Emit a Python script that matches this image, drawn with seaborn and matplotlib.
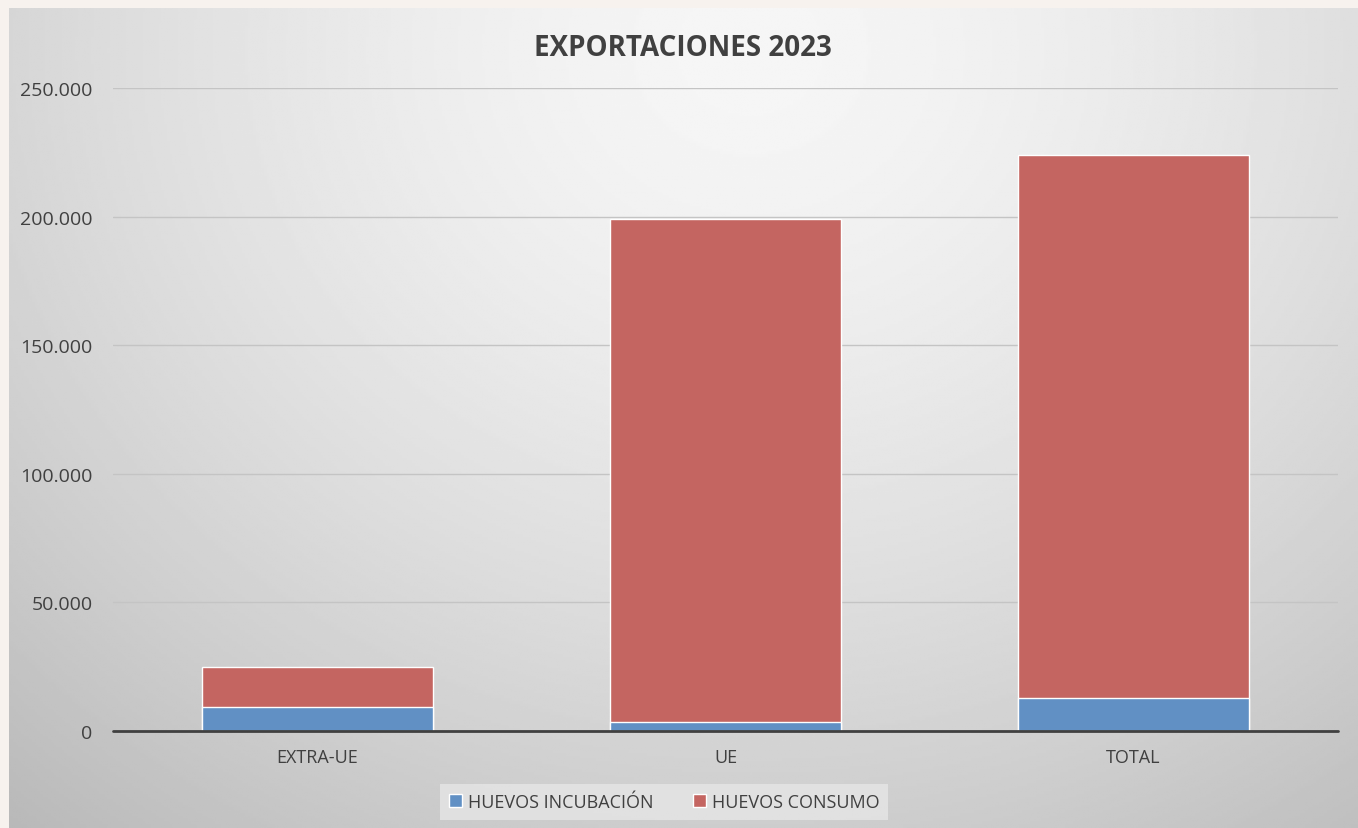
import numpy as np
import pandas as pd
import seaborn as sns
import matplotlib.pyplot as plt
from matplotlib.ticker import FuncFormatter

categorias = ["EXTRA-UE", "UE", "TOTAL"]
incubacion = [9300, 3500, 12800]
consumo = [15600, 195600, 211200]
y_ticks = [0, 50000, 100000, 150000, 200000, 250000]

azul = "#6190c4"
rojo = "#c46561"

df = pd.DataFrame({"cat": categorias, "inc": incubacion, "con": consumo})
df["total"] = df["inc"] + df["con"]

sns.set_theme(style="white")
plt.rcParams["font.family"] = ["Open Sans", "DejaVu Sans"]

fig = plt.figure(figsize=(13.58, 8.29), dpi=100)
fig.patch.set_facecolor("#f7f2ee")

# chart area background (radial grey gradient)
bg = fig.add_axes([9 / 1358, 0, 1 - 9 / 1358, 1 - 9 / 829], zorder=0)
yy, xx = np.mgrid[0:1:300j, 0:1:500j]
d = np.sqrt(((xx - 0.55) / 0.75) ** 2 + ((yy - 0.05) / 1.1) ** 2)
img = 0.965 - 0.2 * np.clip(d, 0, 1.2) ** 1.5
bg.imshow(img, cmap="gray", vmin=0, vmax=1, aspect="auto", extent=[0, 1, 1, 0])
bg.set_axis_off()

ax = fig.add_axes([113.5 / 1358, 97 / 829, 1224 / 1358, 643 / 829], zorder=1)
ax.patch.set_alpha(0)

sns.barplot(data=df, x="cat", y="total", color=rojo, saturation=1, width=0.566,
            edgecolor="white", linewidth=1, ax=ax, label="HUEVOS CONSUMO", zorder=3)
sns.barplot(data=df, x="cat", y="inc", color=azul, saturation=1, width=0.566,
            edgecolor="white", linewidth=1, ax=ax, label="HUEVOS INCUBACIÓN", zorder=3)

ax.set_ylim(0, 250000)
ax.set_xlim(-0.5, 2.5)
ax.set_yticks(y_ticks)
ax.yaxis.set_major_formatter(FuncFormatter(lambda v, p: f"{int(v):,}".replace(",", ".")))
ax.grid(axis="y", color="#c4c4c4", linewidth=1, zorder=0)
ax.axhline(0, color="#404040", linewidth=2, zorder=4, clip_on=False)
for s in ax.spines.values():
    s.set_visible(False)
ax.set_xlabel("")
ax.set_ylabel("")
ax.tick_params(axis="y", length=0, pad=15, labelsize=14, labelcolor="#404040")
ax.tick_params(axis="x", length=0, pad=12, labelsize=13, labelcolor="#404040")

fig.text(683 / 1358, 1 - 48 / 829, "EXPORTACIONES 2023", ha="center", va="center",
         fontsize=20, fontweight="bold", color="#404040")

h, l = ax.get_legend_handles_labels()
if ax.get_legend() is not None:
    ax.get_legend().remove()
order = [l.index("HUEVOS INCUBACIÓN"), l.index("HUEVOS CONSUMO")]
leg = fig.legend([h[i] for i in order], [l[i] for i in order], loc="center",
                 bbox_to_anchor=(664 / 1358, 1 - 803 / 829), ncol=2, frameon=True,
                 fontsize=13, handlelength=0.75, handleheight=0.75, handletextpad=0.3,
                 columnspacing=2.2, borderpad=0.5, fancybox=False)
leg.get_frame().set_facecolor("#e6e6e6")
leg.get_frame().set_edgecolor("none")
leg.get_frame().set_alpha(0.8)
for t in leg.get_texts():
    t.set_color("#404040")

fig.savefig("out.png", dpi=100, facecolor=fig.get_facecolor())
